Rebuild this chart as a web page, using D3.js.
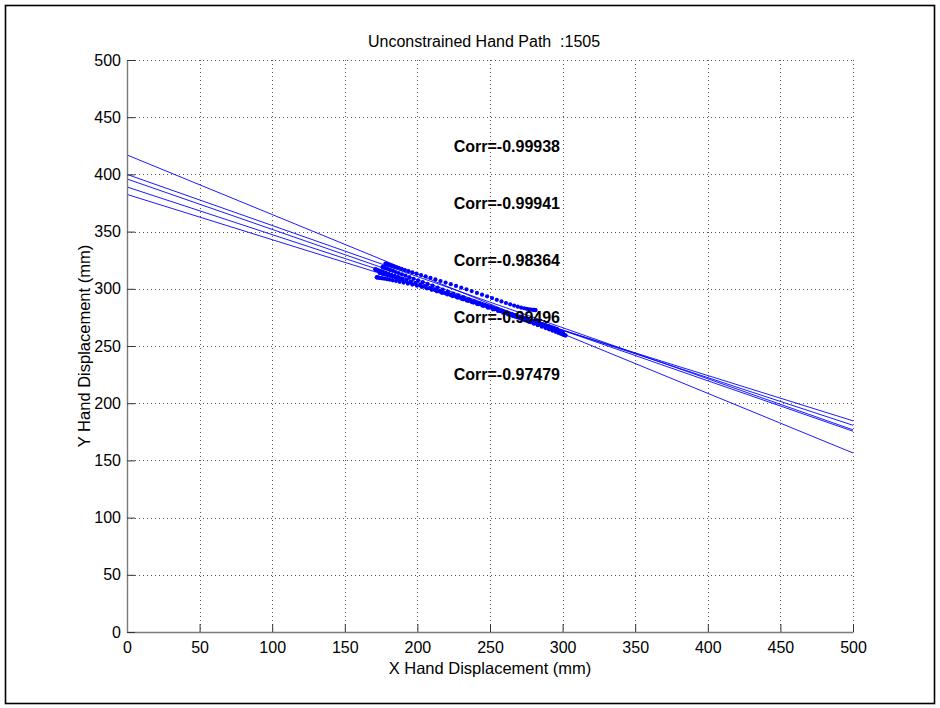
<!DOCTYPE html>
<html>
<head>
<meta charset="utf-8">
<script src="https://cdn.jsdelivr.net/npm/d3@7/dist/d3.min.js"></script>
<style>
  html, body { margin: 0; padding: 0; background: #fff; }
  svg { display: block; font-family: "Liberation Sans", Arial, Helvetica, sans-serif; }
</style>
</head>
<body>
<svg id="chart" width="940" height="708"></svg>
<script>
// ---- Data -------------------------------------------------------------
const titleText = "Unconstrained Hand Path  :1505";
const xLabel = "X Hand Displacement (mm)";
const yLabel = "Y Hand Displacement (mm)";
const xTicks = [0, 50, 100, 150, 200, 250, 300, 350, 400, 450, 500];
const yTicks = [0, 50, 100, 150, 200, 250, 300, 350, 400, 450, 500];

// Regression lines: y at x = 0 and y at x = 500
const fitX = [0, 500];
const fitStartY = [417, 400, 396, 389, 382.5];
const fitEndY = [156.5, 176.7, 175.5, 180.7, 184.6];

// Correlation annotations
const corrLabels = ["Corr=-0.99938", "Corr=-0.99941", "Corr=-0.98364", "Corr=-0.99496", "Corr=-0.97479"];
const corrX = 225;
const corrY = [425, 375, 325, 275, 225];

// Hand paths (mm), one pair of arrays per movement
const path1X = [178, 178.2, 178.6, 179.2, 180, 181, 182.2, 183.6, 185.2, 187, 189, 191.3, 193.8, 196.5, 199.4, 202.5, 205.7, 209, 212.4, 215.9, 219.4, 223, 226.6, 230.2, 233.8, 237.4, 241, 244.5, 248, 251.4, 254.7, 257.9, 261, 263.9, 266.6, 269.1, 271.4, 273.5, 275.3, 276.9, 278.2, 279.3, 280.1, 280.7, 281.1, 281.4];
const path1Y = [322, 321.9, 321.7, 321.5, 321.2, 320.7, 320.2, 319.6, 319, 318.2, 317.4, 316.4, 315.4, 314.3, 313.2, 312, 310.8, 309.5, 308.2, 306.8, 305.4, 304, 302.5, 301, 299.5, 298, 296.4, 294.9, 293.4, 291.9, 290.4, 289, 287.6, 286.4, 285.3, 284.4, 283.6, 283, 282.5, 282.1, 281.9, 281.7, 281.6, 281.5, 281.4, 281.4];

const path2X = [171, 171.2, 171.6, 172.2, 173, 174, 175.2, 176.6, 178.2, 180, 182, 184.3, 186.8, 189.5, 192.4, 195.5, 198.7, 202, 205.4, 208.9, 212.4, 216, 219.6, 223.2, 226.8, 230.4, 234, 237.6, 241.2, 244.8, 248.4, 252, 255.5, 259, 262.4, 265.7, 268.9, 272, 275, 277.9, 280.7, 283.3, 285.8, 288.1, 290.2, 292.1, 293.8, 295.3, 296.6, 297.7, 298.6, 299.3, 299.8, 300.1, 300.2];
const path2Y = [317, 316.9, 316.7, 316.5, 316.1, 315.7, 315.2, 314.6, 313.9, 313.1, 312.3, 311.3, 310.2, 309, 307.8, 306.4, 305.1, 303.6, 302.2, 300.7, 299.2, 297.6, 296.1, 294.5, 293, 291.4, 289.8, 288.3, 286.7, 285.2, 283.6, 282.1, 280.6, 279.1, 277.6, 276.2, 274.9, 273.5, 272.2, 270.9, 269.7, 268.6, 267.5, 266.5, 265.6, 264.8, 264.1, 263.4, 262.9, 262.4, 262, 261.7, 261.5, 261.4, 261.3];

const path3X = [172, 172.2, 172.6, 173.2, 174, 175, 176.2, 177.6, 179.2, 181, 183, 185.3, 187.8, 190.5, 193.4, 196.5, 199.7, 203, 206.4, 209.9, 213.4, 217, 220.6, 224.2, 227.8, 231.4, 235, 238.6, 242.2, 245.8, 249.4, 253, 256.5, 260, 263.4, 266.7, 269.9, 273, 276, 278.9, 281.6, 284.1, 286.4, 288.5, 290.4, 292.1, 293.5, 294.6, 295.4, 296, 296.3];
const path3Y = [310, 309.95, 309.9, 309.8, 309.6, 309.4, 309.1, 308.8, 308.4, 307.9, 307.4, 306.8, 306.1, 305.4, 304.6, 303.7, 302.7, 301.6, 300.4, 299.1, 297.8, 296.4, 295, 293.6, 292.2, 290.8, 289.4, 288, 286.5, 285.1, 283.6, 282.2, 280.8, 279.4, 278.1, 276.8, 275.5, 274.3, 273.1, 272, 270.9, 269.9, 269, 268.1, 267.3, 266.6, 266, 265.5, 265.1, 264.8, 264.6];

const path4X = [176, 176.2, 176.6, 177.2, 178, 179, 180.2, 181.6, 183.2, 185, 187, 189.3, 191.8, 194.5, 197.4, 200.5, 203.7, 207, 210.4, 213.9, 217.4, 221, 224.6, 228.2, 231.8, 235.4, 239, 242.6, 246.2, 249.8, 253.4, 257, 260.5, 264, 267.4, 270.7, 273.9, 277, 280, 282.9, 285.7, 288.3, 290.8, 293.1, 295.2, 297.1, 298.7, 300, 300.9, 301.5, 301.9, 302];
const path4Y = [319, 318.9, 318.7, 318.4, 318.1, 317.6, 317, 316.3, 315.6, 314.7, 313.8, 312.7, 311.5, 310.2, 308.8, 307.4, 305.8, 304.3, 302.7, 301, 299.3, 297.6, 295.9, 294.2, 292.5, 290.8, 289.1, 287.4, 285.7, 283.9, 282.2, 280.5, 278.9, 277.2, 275.6, 274.1, 272.5, 271, 269.6, 268.2, 266.9, 265.7, 264.5, 263.4, 262.4, 261.5, 260.8, 260.1, 259.7, 259.4, 259.3, 259.2];

const path5X = [174, 174.2, 174.6, 175.2, 176, 177, 178.2, 179.6, 181.2, 183, 185, 187.3, 189.8, 192.5, 195.4, 198.5, 201.7, 205, 208.4, 211.9, 215.4, 219, 222.6, 226.2, 229.8, 233.4, 237, 240.6, 244.2, 247.8, 251.4, 255, 258.4, 261.7, 264.9, 268, 270.9, 273.7, 276.3, 278.7, 280.9, 282.9, 284.7, 286.3, 287.6, 288.7, 289.6, 290.3, 290.7, 290.9];
const path5Y = [314, 313.9, 313.8, 313.5, 313.2, 312.8, 312.3, 311.8, 311.2, 310.5, 309.7, 308.8, 307.8, 306.7, 305.6, 304.4, 303.1, 301.8, 300.5, 299.1, 297.7, 296.3, 294.9, 293.5, 292.1, 290.7, 289.2, 287.8, 286.4, 285, 283.6, 282.2, 280.8, 279.5, 278.2, 276.9, 275.6, 274.4, 273.3, 272.3, 271.3, 270.4, 269.6, 268.9, 268.3, 267.8, 267.4, 267.1, 266.9, 266.8];

const pathsX = [path1X, path2X, path3X, path4X, path5X];
const pathsY = [path1Y, path2Y, path3Y, path4Y, path5Y];

// ---- Layout -----------------------------------------------------------
const svg = d3.select("#chart");
const W = 940, H = 708;
const plot = { left: 127, right: 853, top: 60, bottom: 632 };
const blue = "#0000ff";

const x = d3.scaleLinear().domain([0, 500]).range([plot.left, plot.right]);
const y = d3.scaleLinear().domain([0, 500]).range([plot.bottom, plot.top]);

svg.append("rect").attr("width", W).attr("height", H).attr("fill", "#fff");

// Figure frame
svg.append("rect")
  .attr("x", 5.5).attr("y", 5.5)
  .attr("width", 929).attr("height", 698)
  .attr("fill", "none").attr("stroke", "#000").attr("stroke-width", 1.6);

// Dotted grid
const grid = svg.append("g").attr("stroke", "#555").attr("stroke-width", 1)
  .attr("stroke-dasharray", "1,3").attr("fill", "none");
grid.selectAll(".gx").data(xTicks.filter(d => d > 0)).join("line")
  .attr("x1", d => Math.round(x(d)) + 0.5).attr("x2", d => Math.round(x(d)) + 0.5)
  .attr("y1", plot.top).attr("y2", plot.bottom);
grid.selectAll(".gy").data(yTicks.filter(d => d > 0)).join("line")
  .attr("y1", d => Math.round(y(d)) + 0.5).attr("y2", d => Math.round(y(d)) + 0.5)
  .attr("x1", plot.left).attr("x2", plot.right);

// Regression lines
svg.append("clipPath").attr("id", "plotClip").append("rect")
  .attr("x", plot.left).attr("y", plot.top)
  .attr("width", plot.right - plot.left).attr("height", plot.bottom - plot.top);

const lineGen = d3.line().x(d => x(d[0])).y(d => y(d[1]));
const fits = fitStartY.map((y0, i) => [[fitX[0], y0], [fitX[1], fitEndY[i]]]);
svg.append("g").attr("clip-path", "url(#plotClip)")
  .selectAll("path").data(fits).join("path")
  .attr("d", lineGen)
  .attr("fill", "none").attr("stroke", blue).attr("stroke-width", 0.9);

// Hand path samples
const dots = svg.append("g").attr("fill", blue);
pathsX.forEach((px, i) => {
  const py = pathsY[i];
  const pts = px.slice(0, py.length).map((v, j) => [v, py[j]]);
  dots.append("g").selectAll("circle").data(pts).join("circle")
    .attr("cx", d => x(d[0])).attr("cy", d => y(d[1])).attr("r", 2.1);
});

// Axes (left and bottom only, inward ticks)
const xAxis = d3.axisBottom(x).tickValues(xTicks).tickSizeInner(-8).tickSizeOuter(0).tickPadding(10);
const yAxis = d3.axisLeft(y).tickValues(yTicks).tickSizeInner(-8).tickSizeOuter(0).tickPadding(6);

const gx = svg.append("g").attr("transform", `translate(0,${plot.bottom})`).call(xAxis);
const gy = svg.append("g").attr("transform", `translate(${plot.left},0)`).call(yAxis);
[gx, gy].forEach(g => {
  g.select(".domain").attr("stroke", "#7a7a7a").attr("stroke-width", 1.4);
  g.selectAll(".tick line").attr("stroke", "#333").attr("stroke-width", 1);
  g.selectAll(".tick text").attr("fill", "#000")
    .style("font-size", "16px").style("font-family", "'Liberation Sans', Arial, sans-serif");
});
gx.selectAll(".tick text").attr("dy", "0.71em");

// Correlation labels
svg.append("g").selectAll("text").data(corrLabels).join("text")
  .attr("x", x(corrX)).attr("y", (d, i) => y(corrY[i]))
  .attr("dy", "0.36em")
  .style("font-size", "16px").style("font-weight", "bold")
  .attr("fill", "#000")
  .text(d => d);

// Title and axis labels
svg.append("text")
  .attr("x", 368).attr("y", 47)
  .style("font-size", "16px").style("white-space", "pre")
  .attr("fill", "#000")
  .text(titleText);

svg.append("text")
  .attr("x", (plot.left + plot.right) / 2).attr("y", 674)
  .attr("text-anchor", "middle")
  .style("font-size", "16.5px").attr("fill", "#000")
  .text(xLabel);

svg.append("text")
  .attr("transform", `translate(90,${(plot.top + plot.bottom) / 2}) rotate(-90)`)
  .attr("text-anchor", "middle")
  .style("font-size", "16.5px").attr("fill", "#000")
  .text(yLabel);
</script>
</body>
</html>
